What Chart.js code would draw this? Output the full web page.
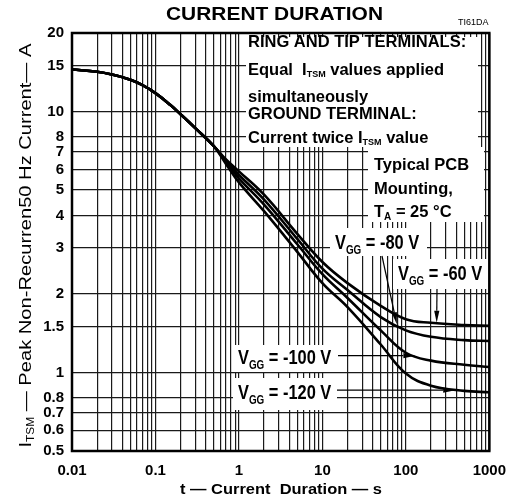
<!DOCTYPE html>
<html>
<head>
<meta charset="utf-8">
<script src="https://cdn.jsdelivr.net/npm/chart.js@4.4.1/dist/chart.umd.min.js"></script>
<style>
  html, body { margin: 0; padding: 0; background: #fff; }
</style>
</head>
<body>
<canvas id="chart-duration" width="517" height="499"></canvas>
<script>
// Values (t in s, I_TSM in A)
const durations = [0.01, 0.02, 0.03, 0.05, 0.07, 0.1, 0.15, 0.2, 0.3, 0.5, 0.7, 1, 2, 5, 10, 20, 50, 100, 200, 500, 1000];
const vgg60  = [14.5, 14.2, 13.86, 13.24, 12.63, 11.76, 10.61, 9.76, 8.64, 7.37, 6.55, 5.9, 4.8, 3.4, 2.65, 2.2, 1.8, 1.6, 1.55, 1.52, 1.51];
const vgg80  = [14.5, 14.2, 13.86, 13.24, 12.63, 11.76, 10.61, 9.76, 8.64, 7.37, 6.48, 5.72, 4.6, 3.25, 2.5, 2.07, 1.63, 1.45, 1.37, 1.33, 1.32];
const vgg100 = [14.5, 14.2, 13.86, 13.24, 12.63, 11.76, 10.61, 9.76, 8.64, 7.37, 6.4, 5.55, 4.4, 3.1, 2.38, 1.93, 1.45, 1.19, 1.11, 1.07, 1.05];
const vgg120 = [14.5, 14.2, 13.86, 13.24, 12.63, 11.76, 10.61, 9.76, 8.64, 7.37, 6.3, 5.35, 4.15, 2.9, 2.2, 1.78, 1.28, 0.99, 0.89, 0.85, 0.84];

// Tick labels
const xLabels = [0.01, 0.1, 1, 10, 100, 1000];
const yLabels = [0.5, 0.6, 0.7, 0.8, 1, 1.5, 2, 3, 4, 5, 6, 7, 8, 10, 15, 20];

// x grid: 1..9 in every decade
const xGrid = [];
xLabels.slice(0, -1).forEach((d) => {
	for (let k = 1; k < 10; k++) xGrid.push(Number((d * k).toPrecision(6)));
});
xGrid.push(xLabels[xLabels.length - 1]);

const FONT = '"Liberation Sans", Arial, Helvetica, sans-serif';

const toPoints = (vals) => durations.map((t, i) => ({ x: t, y: vals[i] }));
const curve = (label, vals) => ({
	label: label,
	data: toPoints(vals),
	borderColor: '#000',
	borderWidth: 2.6,
	pointRadius: 0,
	fill: false,
	tension: 0.4,
});

// text pieces: [text, font, dy]
function richWidth(ctx, parts) {
	let w = 0;
	parts.forEach((p) => {
		ctx.font = p[1];
		w += ctx.measureText(p[0]).width;
	});
	return w;
}

function drawRich(ctx, x, y, parts, sx) {
	ctx.save();
	ctx.translate(x, y);
	ctx.scale(sx || 1, 1);
	let cx = 0;
	parts.forEach((p) => {
		ctx.font = p[1];
		ctx.fillText(p[0], cx, p[2] || 0);
		cx += ctx.measureText(p[0]).width;
	});
	ctx.restore();
}

function arrow(ctx, x1, y1, x2, y2) {
	const a = Math.atan2(y2 - y1, x2 - x1);
	const len = 12, half = 2.6;
	const bx = x2 - len * Math.cos(a), by = y2 - len * Math.sin(a);
	ctx.beginPath();
	ctx.moveTo(x1, y1);
	ctx.lineTo(bx, by);
	ctx.stroke();
	ctx.beginPath();
	ctx.moveTo(x2, y2);
	ctx.lineTo(bx + half * Math.sin(a), by - half * Math.cos(a));
	ctx.lineTo(bx - half * Math.sin(a), by + half * Math.cos(a));
	ctx.closePath();
	ctx.fill();
}

const b = (s) => 'bold ' + s + 'px ' + FONT;
const vggLabel = (v) => [['V', b(20)], ['GG', b(12), 5], [' = ' + v + ' V', b(20)]];

const notes = {
	id: 'notes',
	beforeDatasetsDraw(chart) {
		const ctx = chart.ctx;
		ctx.save();
		ctx.fillStyle = '#fff';
		// white label backgrounds hiding the grid
		ctx.fillRect(246, 37, 232, 110);
		ctx.fillRect(368, 147, 116, 75);
		ctx.fillRect(330, 228, 97, 28);
		ctx.fillRect(393, 259, 96, 30);
		ctx.fillRect(233, 345, 105, 27);
		ctx.fillRect(233, 378, 104, 32);
		ctx.restore();
	},
	afterDatasetsDraw(chart) {
		const ctx = chart.ctx;
		const x = chart.scales.x, y = chart.scales.y;
		ctx.save();
		ctx.strokeStyle = '#000';
		ctx.fillStyle = '#000';
		ctx.lineWidth = 1.2;
		arrow(ctx, 437, 289, x.getPixelForValue(234), y.getPixelForValue(1.55));
		arrow(ctx, 382, 256, x.getPixelForValue(78), y.getPixelForValue(1.53));
		const y100 = y.getPixelForValue(1.16);
		arrow(ctx, 338, y100, x.getPixelForValue(130), y100);
		const y120 = y.getPixelForValue(0.855);
		arrow(ctx, 337, y120, x.getPixelForValue(390), y120);
		ctx.restore();
	},
	afterDraw(chart) {
		const ctx = chart.ctx;
		const area = chart.chartArea;
		ctx.save();
		ctx.strokeStyle = '#000';
		ctx.lineWidth = 2.5;
		ctx.strokeRect(area.left, area.top, area.right - area.left, area.bottom - area.top);

		ctx.fillStyle = '#000';
		ctx.textAlign = 'left';
		ctx.textBaseline = 'alphabetic';

		// title
		const title = [['CURRENT DURATION', b(18)]];
		const tw = richWidth(ctx, title);
		drawRich(ctx, 274.5 - 217 / 2, 19.5, title, 217 / tw);
		drawRich(ctx, 458, 25, [['TI61DA', '9px ' + FONT]]);

		// notes box
		drawRich(ctx, 248, 47, [['RING AND TIP TERMINALS:', b(16.5)]]);
		drawRich(ctx, 248, 75, [['Equal  I', b(16.5)], ['TSM', b(9), 2], [' values applied', b(16.5)]]);
		drawRich(ctx, 248, 101.5, [['simultaneously', b(16.5)]]);
		drawRich(ctx, 248, 119, [['GROUND TERMINAL:', b(16.5)]]);
		drawRich(ctx, 248, 143, [['Current twice I', b(16.5)], ['TSM', b(9), 2], [' value', b(16.5)]]);
		drawRich(ctx, 374, 169.5, [['Typical PCB', b(16.5)]]);
		drawRich(ctx, 374, 193.5, [['Mounting,', b(16.5)]]);
		drawRich(ctx, 374, 217, [['T', b(16.5)], ['A', b(10), 3], [' = 25 \u00B0C', b(16.5)]]);

		// V_GG labels
		drawRich(ctx, 335, 249, vggLabel('-80'), 0.82);
		drawRich(ctx, 398, 280, vggLabel('-60'), 0.82);
		drawRich(ctx, 238, 364, vggLabel('-100'), 0.82);
		drawRich(ctx, 238, 399, vggLabel('-120'), 0.82);

		// x axis title
		const xt = [['t \u2014 Current  Duration \u2014 s', b(15)]];
		const xw = richWidth(ctx, xt);
		drawRich(ctx, 281 - 101, 494, xt, 202 / xw);

		// y axis title, rotated
		const yt = [['I', '17px ' + FONT], ['TSM', '10px ' + FONT, 3], [' \u2014 Peak Non-Recurren50 Hz Current\u2014 A', '17px ' + FONT]];
		const yw = richWidth(ctx, yt);
		ctx.translate(31, 245.5);
		ctx.rotate(-Math.PI / 2);
		drawRich(ctx, -202, 0, yt, 404 / yw);
		ctx.restore();
	},
};

!(function () {
	const ctx = document.getElementById('chart-duration');

	new Chart(ctx, {
		type: 'line',
		data: {
			datasets: [
				curve('VGG = -60 V', vgg60),
				curve('VGG = -80 V', vgg80),
				curve('VGG = -100 V', vgg100),
				curve('VGG = -120 V', vgg120),
			],
		},
		options: {
			responsive: false,
			devicePixelRatio: 1,
			animation: false,
			layout: {
				padding: { top: 33, right: 26, left: 0, bottom: 0 },
			},
			scales: {
				x: {
					type: 'logarithmic',
					min: 0.01,
					max: 1000,
					afterBuildTicks: (axis) => {
						axis.ticks = xGrid.map((v) => ({ value: v }));
					},
					afterFit: (axis) => {
						axis.height = 48;
					},
					grid: { color: '#1a1a1a', lineWidth: 1.2, drawTicks: false },
					border: { display: false },
					ticks: {
						autoSkip: false,
						maxRotation: 0,
						padding: 11,
						color: '#000',
						font: { family: FONT, size: 15, weight: 'bold' },
						callback: (v) => (xLabels.includes(v) ? String(v) : ''),
					},
				},
				y: {
					type: 'logarithmic',
					min: 0.5,
					max: 20,
					afterBuildTicks: (axis) => {
						axis.ticks = yLabels.map((v) => ({ value: v }));
					},
					afterFit: (axis) => {
						axis.width = 72;
					},
					grid: { color: '#1a1a1a', lineWidth: 1.2, drawTicks: false },
					border: { display: false },
					ticks: {
						autoSkip: false,
						padding: 8,
						color: '#000',
						font: { family: FONT, size: 15, weight: 'bold' },
						callback: (v) => String(v),
					},
				},
			},
			plugins: {
				legend: { display: false },
				tooltip: { enabled: false },
			},
		},
		plugins: [notes],
	});
})();
</script>
</body>
</html>
